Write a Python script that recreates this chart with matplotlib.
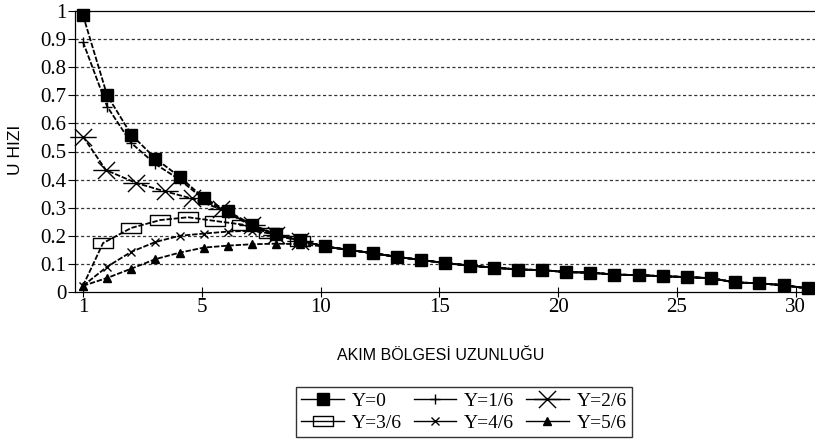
import matplotlib.pyplot as plt
import numpy as np
from matplotlib.path import Path
from matplotlib.lines import Line2D

# shared tail (all curves merge after about position 10)
tail_x = list(range(10, 31))
tail_u = [0.162, 0.15, 0.138, 0.125, 0.114, 0.103, 0.094, 0.087, 0.08, 0.078, 0.071,
          0.069, 0.062, 0.06, 0.056, 0.053, 0.049, 0.034, 0.031, 0.024, 0.013]

# first part of each curve
x_y0 = list(range(10))
u_y0 = [0.985, 0.70, 0.56, 0.475, 0.41, 0.335, 0.287, 0.24, 0.205, 0.185]
x_y1 = list(range(10))
u_y1 = [0.89, 0.66, 0.53, 0.455, 0.40, 0.33, 0.28, 0.235, 0.2, 0.182]
x_y2 = [0, 0.95, 2.2, 3.4, 4.5, 5.7, 7, 8, 9]
u_y2 = [0.553, 0.434, 0.388, 0.358, 0.333, 0.295, 0.238, 0.203, 0.183]
x_y3 = [0, 0.83, 2.0, 3.2, 4.35, 5.45, 6.6, 7.7, 9]
u_y3 = [0.022, 0.174, 0.228, 0.256, 0.266, 0.253, 0.24, 0.21, 0.183]
x_y4 = list(range(10))
u_y4 = [0.022, 0.09, 0.143, 0.178, 0.2, 0.208, 0.215, 0.218, 0.205, 0.183]
x_y5 = list(range(10))
u_y5 = [0.022, 0.05, 0.083, 0.117, 0.14, 0.158, 0.165, 0.17, 0.172, 0.17]

labels = ['Y=0', 'Y=1/6', 'Y=2/6', 'Y=3/6', 'Y=4/6', 'Y=5/6']
xtick_labels = ['1', '5', '10', '15', '20', '25', '30']

serif = 'Liberation Serif'
sans = 'Liberation Sans'

# custom markers: wide open box, and x with a horizontal bar
box = Path([(-1, -0.55), (1, -0.55), (1, 0.55), (-1, 0.55), (-1, -0.55)],
           [Path.MOVETO, Path.LINETO, Path.LINETO, Path.LINETO, Path.CLOSEPOLY])
star = Path([(-0.65, -0.65), (0.65, 0.65), (-0.65, 0.65), (0.65, -0.65), (-1, 0), (1, 0)],
            [Path.MOVETO, Path.LINETO, Path.MOVETO, Path.LINETO, Path.MOVETO, Path.LINETO])

fig = plt.figure(figsize=(8.15, 4.46), dpi=100)
ax = fig.add_axes([75 / 815, 1 - 292 / 446, 740 / 815, 281 / 446])

ls = (0, (3, 1))
styles = [
    dict(marker='s', ms=8.5, mfc='black'),
    dict(marker='+', ms=7, mew=1),
    dict(marker=star, ms=19, mfc='none', mew=1),
    dict(marker=box, ms=14, mfc='none', mew=1),
    dict(marker='x', ms=6, mew=1),
    dict(marker='^', ms=6, mfc='black'),
]
xs = [x_y0, x_y1, x_y2, x_y3, x_y4, x_y5]
us = [u_y0, u_y1, u_y2, u_y3, u_y4, u_y5]
first_mark = [0, 0, 0, 1, 0, 0]

for i in [5, 4, 3, 2, 1, 0]:
    if i == 0:
        every = None
    else:
        every = list(range(first_mark[i], len(xs[i])))
    ax.plot(xs[i] + tail_x, us[i] + tail_u, color='black', lw=1.3, ls=ls,
            mec='black', clip_on=False, zorder=3 + (5 - i), markevery=every, **styles[i])

ax.set_xlim(-0.33, 30.3)
ax.set_ylim(0, 1)
ax.set_xticks(np.linspace(0, 29.5, 7))
ax.set_xticklabels(xtick_labels, fontfamily=serif, fontsize=15)
ax.set_yticks(np.arange(0, 1.01, 0.1))
ax.set_yticklabels(['0', '0.1', '0.2', '0.3', '0.4', '0.5', '0.6', '0.7', '0.8', '0.9', '1'],
                   fontfamily=serif, fontsize=15)
ax.tick_params(axis='x', direction='inout', length=7, width=0.8, pad=1)
ax.tick_params(axis='y', direction='out', length=5, width=0.8, pad=1)

for yv in np.arange(0.1, 0.95, 0.1):
    ax.axhline(yv, color='#333333', lw=0.9, ls=(0, (2.5, 2)), zorder=1)

ax.spines['right'].set_visible(False)
for s in ['left', 'bottom', 'top']:
    ax.spines[s].set_linewidth(0.9)

fig.text(15 / 815, 1 - 150 / 446, 'U HIZI', rotation=90, ha='center', va='center',
         fontfamily=sans, fontsize=12.5)
fig.text(441 / 815, 1 - 355 / 446, 'AKIM BÖLGESİ UZUNLUĞU', ha='center', va='center',
         fontfamily=sans, fontsize=11.5)

# legend handles with solid lines, ordered row-wise
handles = [Line2D([], [], color='black', lw=1, **styles[i]) for i in range(6)]
order = [0, 3, 1, 4, 2, 5]
leg = fig.legend([handles[i] for i in order], [labels[i] for i in order], ncol=3,
                 loc='center', bbox_to_anchor=(464 / 815, 1 - 412 / 446),
                 prop={'family': serif, 'size': 14}, frameon=True, fancybox=False,
                 edgecolor='black', handlelength=2.2, handletextpad=0.4,
                 columnspacing=0.6, borderpad=0.3, labelspacing=0.2)
leg.get_frame().set_linewidth(1)

fig.savefig('out.png', dpi=100)
